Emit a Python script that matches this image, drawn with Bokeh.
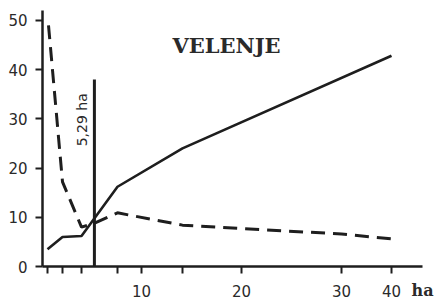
from bokeh.plotting import figure
from bokeh.models import Label, FixedTicker, Range1d
from bokeh.embed import file_html
from bokeh.resources import INLINE
import numpy as np

# data (farm size in ha on x)
x_solid = [0.6, 2.1, 4.0, 5.3, 7.6, 14.1, 40]
y_solid = [3.5, 6.0, 6.2, 9.8, 16.2, 24.0, 42.8]

x_dash = [0.7, 2.1, 4.0, 5.3, 7.6, 14.1, 20, 30, 40]
y_dash = [49.0, 17.2, 8.0, 8.8, 10.9, 8.4, 7.7, 6.6, 5.6]

threshold_ha = 5.29
threshold_top = 38
threshold_label = "5,29 ha"
title_text = "VELENJE"

x_ticks = [0.6, 2.1, 4.0, 7.6, 10, 14.1, 20, 30, 40]
x_tick_labels = ["", "", "", "", "10", "", "20", "30", "40"]
y_ticks = [0, 10, 20, 30, 40, 50]
unit_label = "ha"


def tx(v):
    # broken axis: beyond 30 ha the scale is halved
    v = np.asarray(v, dtype=float)
    return np.where(v <= 30, v, 30 + (v - 30) / 2.0)


INK = "#1e1e1e"

p = figure(width=434, height=304, output_backend="svg", toolbar_location=None,
           x_range=Range1d(0.1, 38.1), y_range=Range1d(0, 52.0),
           min_border_left=42, min_border_right=12, min_border_top=10,
           min_border_bottom=38)
p.outline_line_color = None
p.grid.visible = False
p.background_fill_color = "white"

p.line(tx(x_solid), y_solid, line_color=INK, line_width=2.6)
p.line(tx(x_dash), y_dash, line_color=INK, line_width=3, line_dash="14 8")
p.segment(x0=tx([threshold_ha]), y0=[0], x1=tx([threshold_ha]), y1=[threshold_top],
          line_color=INK, line_width=3)

tt = [float(v) for v in tx(x_ticks)]
p.xaxis.ticker = FixedTicker(ticks=tt)
p.xaxis.major_label_overrides = {t: lab for t, lab in zip(tt, x_tick_labels)}
p.yaxis.ticker = FixedTicker(ticks=y_ticks)

for ax in (p.xaxis, p.yaxis):
    ax.axis_line_color = INK
    ax.axis_line_width = 2.5
    ax.major_tick_line_color = INK
    ax.major_tick_line_width = 2
    ax.major_tick_in = 0
    ax.major_tick_out = 7
    ax.minor_tick_line_color = None
    ax.major_label_text_font = "DejaVu Sans"
    ax.major_label_text_font_size = "15px"
    ax.major_label_text_color = "#2a2a2a"
p.xaxis.major_label_standoff = 11
p.yaxis.major_label_standoff = 8

# unit "ha" sits on the tick-label row, right end of the x axis
p.xaxis.axis_label = unit_label
p.xaxis.axis_label_text_font = "DejaVu Serif"
p.xaxis.axis_label_text_font_style = "bold"
p.xaxis.axis_label_text_font_size = "16px"
p.xaxis.axis_label_text_color = "#2a2a2a"
p.xaxis.axis_label_align = "end"
p.xaxis.axis_label_standoff = -19

p.add_layout(Label(x=float(tx([18.5])[0]), y=44.9, text=title_text,
                   text_font="DejaVu Serif", text_font_style="bold",
                   text_font_size="21px", text_color="#2a2a2a",
                   text_align="center", text_baseline="middle"))
p.add_layout(Label(x=4.0, y=29.8, text=threshold_label, angle=np.pi / 2,
                   text_font="DejaVu Sans", text_font_size="14px",
                   text_color="#2a2a2a", text_align="center",
                   text_baseline="middle"))

open("out.html", "w").write(file_html(p, INLINE))
